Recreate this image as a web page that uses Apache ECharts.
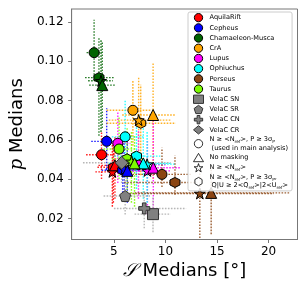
<!DOCTYPE html>
<html><head><meta charset="utf-8">
<script src="https://cdn.jsdelivr.net/npm/echarts@6/dist/echarts.min.js"></script>
<style>html,body{margin:0;padding:0;background:#fff}#c{width:307px;height:288px}</style>
</head><body><div id="c"></div>
<script>
// Regions and colours
const regions = ['AquilaRift','Cepheus','Chamaeleon-Musca','CrA','Lupus','Ophiuchus','Perseus','Taurus'];
const colors = ['#ff0000','#0000ff','#006400','#ffa500','#ff00ff','#00ffff','#8b4513','#7cfc00'];
// Each point: [S median, p median, S low, S high, p low, p high]
// N >= <N_ref>, P >= 3 sigma_P (main analysis) -> circle
const mainPts = [
  [3.80,0.0524,2.3,5.2,0.040,0.064],
  [4.30,0.0592,2.8,5.8,0.045,0.076],
  [3.08,0.1043,2.35,3.85,0.090,0.121],
  [6.84,0.0750,4.3,8.6,0.057,0.090],
  [5.38,0.0582,4.2,6.6,0.038,0.074],
  [6.09,0.0615,4.8,8.0,0.044,0.080],
  [9.66,0.0424,6.5,12.5,0.036,0.056],
  [5.50,0.0553,4.0,7.0,0.040,0.072]
];
// No masking -> triangle
const noMaskPts = [
  [5.10,0.0470,3.5,7.5,0.030,0.062],
  [6.30,0.0442,4.5,8.0,0.028,0.060],
  [3.87,0.0878,2.6,5.2,0.066,0.110],
  [8.80,0.0726,5.8,11.0,0.040,0.099],
  [8.82,0.0458,6.0,11.5,0.022,0.070],
  [7.85,0.0480,4.5,10.5,0.030,0.066],
  [14.43,0.0330,7.0,22.0,0.012,0.046],
  [7.00,0.0480,5.2,9.0,0.026,0.062]
];
// N >= <N_ref> -> star
const nrefPts = [
  [4.85,0.0437,3.2,6.8,0.026,0.058],
  [6.00,0.0450,4.2,7.6,0.030,0.061],
  [3.75,0.0900,2.5,4.9,0.064,0.111],
  [7.40,0.0700,4.5,10.5,0.045,0.092],
  [8.25,0.0442,6.5,10.5,0.022,0.060],
  [8.22,0.0476,5.5,11.0,0.028,0.064],
  [13.33,0.0327,6.5,20.5,0.010,0.045],
  [6.70,0.0490,5.0,8.5,0.028,0.064]
];
// N >= <N_ref>, P >= 3 sigma_P, |Q|U| >= 2<Q_ref>|2<U_ref> -> hexagon
const nrefPQPts = [
  [4.95,0.0460,3.4,7.0,0.028,0.060],
  [5.85,0.0445,3.8,7.5,0.030,0.060],
  [3.55,0.0916,2.2,5.0,0.062,0.112],
  [7.60,0.0684,4.3,11.0,0.042,0.088],
  [7.38,0.0473,5.5,10.0,0.030,0.065],
  [7.19,0.0517,5.0,9.5,0.035,0.068],
  [10.92,0.0383,6.0,13.5,0.032,0.052],
  [6.28,0.0503,4.8,8.0,0.030,0.066]
];
// Vela C sub-regions
const velaNames = ['VelaC SN','VelaC SR','VelaC CN','VelaC CR'];
const velaPts = [
  [8.79,0.0222,7.0,10.5,0.013,0.031],
  [6.09,0.0314,4.0,8.5,0.022,0.041],
  [7.94,0.0251,5.0,12.0,0.015,0.034],
  [5.75,0.0483,2.0,10.5,0.038,0.058]
];
const xTicks = [5,10,15,20];
const yTicks = [0.02,0.04,0.06,0.08,0.10,0.12];

const STAR = 'path://M0 -1 L0.2245 -0.309 L0.951 -0.309 L0.363 0.118 L0.588 0.809 L0 0.382 L-0.588 0.809 L-0.363 0.118 L-0.951 -0.309 L-0.2245 -0.309 Z';
const HEX = 'path://M0 -1 L0.866 -0.5 L0.866 0.5 L0 1 L-0.866 0.5 L-0.866 -0.5 Z';
const PENT = 'path://M0 -1 L0.951 -0.309 L0.588 0.809 L-0.588 0.809 L-0.951 -0.309 Z';
const PLUS = 'path://M-0.33 -1 L0.33 -1 L0.33 -0.33 L1 -0.33 L1 0.33 L0.33 0.33 L0.33 1 L-0.33 1 L-0.33 0.33 L-1 0.33 L-1 -0.33 L-0.33 -0.33 Z';
const variants = [
  {pts: mainPts, symbol: 'circle', size: 10},
  {pts: nrefPQPts, symbol: HEX, size: 10},
  {pts: nrefPts, symbol: STAR, size: 11},
  {pts: noMaskPts, symbol: 'triangle', size: 11}
];
const velaSymbols = ['rect', PENT, PLUS, 'diamond'];
const velaSizes = [11, 11, 11, 13];

function errSeries(name, color, pts){
  return {
    type:'custom', name: name, z: 1, silent: true,
    data: pts.filter(p=>p),
    renderItem: function(params, api){
      const s=api.value(0), p=api.value(1), sl=api.value(2), sh=api.value(3), pl=api.value(4), ph=api.value(5);
      const a=api.coord([sl,p]), b=api.coord([sh,p]), c=api.coord([s,pl]), d=api.coord([s,ph]);
      const st = {stroke: color, lineWidth: 1.4, lineDash: [1.6,1.4], opacity: 0.85};
      return {type:'group', children:[
        {type:'line', shape:{x1:a[0],y1:a[1],x2:b[0],y2:b[1]}, style: st},
        {type:'line', shape:{x1:c[0],y1:c[1],x2:d[0],y2:d[1]}, style: st}
      ]};
    }
  };
}

const series = [];
// error bars first
regions.forEach((r,i)=>{
  const pts = variants.map(v=>v.pts[i]);
  series.push(errSeries(r, colors[i], pts));
});
velaNames.forEach((n,i)=>series.push(errSeries(n, '#aaaaaa', [velaPts[i]])));
// markers
regions.forEach((r,i)=>{
  variants.forEach(v=>{
    if(!v.pts[i]) return;
    series.push({type:'scatter', name:r, z:3, symbol:v.symbol, symbolSize:v.size,
      data:[v.pts[i].slice(0,2)],
      itemStyle:{color:colors[i], borderColor:'#000', borderWidth:1, opacity:1}});
  });
});
velaNames.forEach((n,i)=>{
  series.push({type:'scatter', name:n, z:3, symbol:velaSymbols[i], symbolSize:velaSizes[i],
    data:[velaPts[i].slice(0,2)],
    itemStyle:{color:'#808080', borderColor:'#333', borderWidth:1, opacity:1}});
});
// legend-only entries for marker types
const typeNames = ['t_main','t_nomask','t_nref','t_nrefpq'];
const typeSymbols = ['circle','triangle',STAR,HEX];
typeNames.forEach((n,i)=>series.push({type:'scatter', name:n, symbol:typeSymbols[i], data:[],
  itemStyle:{color:'#fff', borderColor:'#000', borderWidth:1}}));

const typeLabels = {
  t_main: 'N ≥ <N{s|ref}>, P ≥ 3σ{s|P}\n (used in main analysis)',
  t_nomask: 'No masking',
  t_nref: 'N ≥ <N{s|ref}>',
  t_nrefpq: 'N ≥ <N{s|ref}>, P ≥ 3σ{s|P},\n Q|U ≥ 2<Q{s|ref}>|2<U{s|ref}>'
};
const legendData = regions.map((r,i)=>({name:r, icon:'circle', itemStyle:{color:colors[i], borderColor:'#000', borderWidth:1}}))
  .concat(velaNames.map((n,i)=>({name:n, icon:velaSymbols[i], itemStyle:{color:'#808080', borderColor:'#333', borderWidth:1}})))
  .concat(typeNames.map((n,i)=>({name:n, icon:typeSymbols[i], itemStyle:{color:'#fff', borderColor:'#000', borderWidth:1}})));

const chart = echarts.init(document.getElementById('c'), null, {renderer:'canvas'});
chart.setOption({
  animation:false,
  textStyle:{fontFamily:'DejaVu Sans'},
  grid:{left:65, right:9.5, top:9, bottom:48.5, show:true, borderColor:'#777', borderWidth:1},
  xAxis:{type:'value', min:0.9, max:22.8,
    axisLine:{show:true, onZero:false, lineStyle:{color:'#777'}},
    axisTick:{show:true, inside:false, length:3.5, lineStyle:{color:'#777'},
      customValues: xTicks},
    axisLabel:{color:'#000', fontSize:12, margin:6, customValues: xTicks, fontFamily:'DejaVu Sans'},
    splitLine:{show:false},
    name:'{s|𝒮} Medians [°]', nameLocation:'middle', nameGap:22,
    nameTextStyle:{fontSize:18, color:'#000', fontFamily:'DejaVu Sans', rich:{s:{fontSize:18, fontStyle:'italic', fontFamily:'DejaVu Serif'}}}
  },
  yAxis:{type:'value', min:0.0093, max:0.1265,
    axisLine:{show:true, onZero:false, lineStyle:{color:'#777'}},
    axisTick:{show:true, inside:false, length:3.5, lineStyle:{color:'#777'}, customValues: yTicks},
    axisLabel:{color:'#000', fontSize:12, margin:8, customValues: yTicks, fontFamily:'DejaVu Sans',
      formatter:v=>v.toFixed(2)},
    splitLine:{show:false},
    name:'{i|p} Medians', nameLocation:'middle', nameGap:41,
    nameTextStyle:{fontSize:18, color:'#000', fontFamily:'DejaVu Sans', rich:{i:{fontSize:18, fontStyle:'italic', fontFamily:'DejaVu Serif'}}}
  },
  legend:{
    orient:'vertical', left:188, top:12, padding:[1,4,1,5],
    itemWidth:10, itemHeight:8.3, itemGap:0.9,
    backgroundColor:'rgba(255,255,255,0.85)', borderColor:'#ccc', borderWidth:1, borderRadius:2,
    selectedMode:false,
    data: legendData,
    textStyle:{fontSize:6.6, color:'#000', lineHeight:8.3, fontFamily:'DejaVu Sans', padding:[0,0,0,1],
      rich:{s:{fontSize:4.3, verticalAlign:'bottom', lineHeight:8}}},
    formatter: n => typeLabels[n] || n
  },
  series: series
});
</script></body></html>
